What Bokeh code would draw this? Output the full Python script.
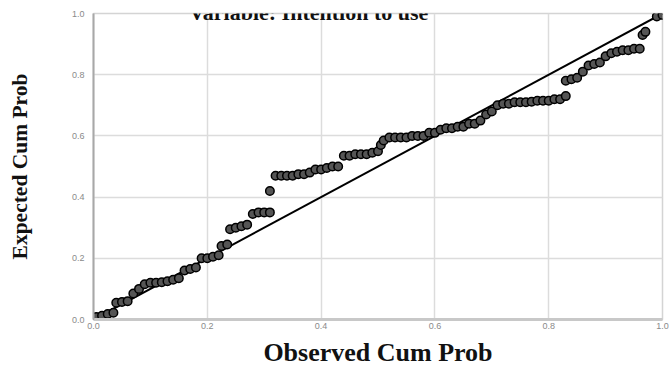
from bokeh.plotting import figure
from bokeh.models import Range1d, FixedTicker, Label, PrintfTickFormatter
from bokeh.embed import file_html
from bokeh.resources import INLINE

# Normal P-P plot: observed vs expected cumulative probability
observed_cum_prob = [
    0.005, 0.015, 0.025, 0.035,
    0.04, 0.05, 0.06,
    0.07, 0.08,
    0.09, 0.10, 0.11, 0.12, 0.13, 0.14, 0.15,
    0.16, 0.17, 0.18,
    0.19, 0.20, 0.21, 0.22,
    0.225, 0.235,
    0.24, 0.25, 0.26, 0.27,
    0.28, 0.29, 0.30, 0.31,
    0.31,
    0.32, 0.33, 0.34, 0.35, 0.36, 0.37, 0.38,
    0.39, 0.40, 0.41, 0.42, 0.43,
    0.44, 0.45, 0.46, 0.47, 0.48, 0.49, 0.50,
    0.505, 0.51,
    0.52, 0.53, 0.54, 0.55, 0.56, 0.57, 0.58,
    0.59, 0.60,
    0.61, 0.62, 0.63, 0.64, 0.65, 0.66, 0.67, 0.68,
    0.69, 0.70,
    0.71, 0.72, 0.73, 0.74, 0.75, 0.76, 0.77, 0.78, 0.79, 0.80, 0.81, 0.82, 0.83,
    0.83, 0.84, 0.85,
    0.86, 0.87,
    0.88, 0.89,
    0.90, 0.91, 0.92, 0.93, 0.94, 0.95, 0.96,
    0.965, 0.97,
    0.99, 1.0,
]
expected_cum_prob = [
    0.008, 0.012, 0.018, 0.022,
    0.055, 0.057, 0.06,
    0.085, 0.10,
    0.115, 0.12, 0.12, 0.122, 0.125, 0.13, 0.135,
    0.16, 0.165, 0.17,
    0.20, 0.20, 0.205, 0.21,
    0.24, 0.245,
    0.295, 0.30, 0.305, 0.31,
    0.345, 0.35, 0.35, 0.35,
    0.42,
    0.47, 0.47, 0.47, 0.47, 0.475, 0.475, 0.48,
    0.49, 0.49, 0.495, 0.50, 0.50,
    0.535, 0.535, 0.54, 0.54, 0.54, 0.545, 0.55,
    0.57, 0.585,
    0.595, 0.595, 0.595, 0.595, 0.60, 0.60, 0.60,
    0.61, 0.61,
    0.62, 0.625, 0.625, 0.63, 0.63, 0.64, 0.64, 0.65,
    0.67, 0.68,
    0.70, 0.705, 0.705, 0.71, 0.71, 0.71, 0.712, 0.715, 0.715, 0.715, 0.72, 0.72, 0.73,
    0.78, 0.785, 0.79,
    0.81, 0.83,
    0.835, 0.84,
    0.86, 0.87, 0.875, 0.88, 0.88, 0.885, 0.885,
    0.93, 0.94,
    0.99, 0.995,
]
reference_line = [0.0, 1.0]
tick_values = [0.0, 0.2, 0.4, 0.6, 0.8, 1.0]

title_text = "Variable: Intention to use"
x_title = "Observed Cum Prob"
y_title = "Expected Cum Prob"

p = figure(
    width=669, height=371,
    x_range=Range1d(0, 1), y_range=Range1d(0, 1),
    output_backend="svg", toolbar_location=None,
    min_border_left=93, min_border_right=7,
    min_border_top=13, min_border_bottom=52,
)
p.background_fill_color = "white"
p.border_fill_color = "white"
p.outline_line_color = "#d4d4d4"
p.outline_line_width = 1.5

# grid
for g in (p.xgrid, p.ygrid):
    g.ticker = FixedTicker(ticks=tick_values)
    g.grid_line_color = "#dcdcdc"
    g.grid_line_width = 1.5

# axes
for ax in (p.xaxis, p.yaxis):
    ax.ticker = FixedTicker(ticks=tick_values)
    ax.formatter = PrintfTickFormatter(format="%.1f")
    ax.major_tick_in = 0
    ax.major_tick_out = 0
    ax.minor_tick_in = 0
    ax.minor_tick_out = 0
    ax.major_label_text_font = "Liberation Sans"
    ax.major_label_text_font_size = "9px"
    ax.major_label_text_color = "#8a8a8a"
    ax.axis_label_text_font = "Liberation Serif"
    ax.axis_label_text_font_style = "bold"
    ax.axis_label_text_color = "#111111"

p.xaxis.axis_label = x_title
p.xaxis.axis_label_text_font_size = "26px"
p.xaxis.axis_line_color = "#c8c8c8"
p.xaxis.axis_line_width = 3
p.xaxis.major_label_standoff = 3
p.xaxis.axis_label_standoff = 6

p.yaxis.axis_label = y_title
p.yaxis.axis_label_text_font_size = "21.5px"
p.yaxis.axis_line_color = "#a8a8a8"
p.yaxis.axis_line_width = 2
p.yaxis.major_label_standoff = 9
p.yaxis.axis_label_standoff = 37

# diagonal reference line
p.line(reference_line, reference_line, line_color="black", line_width=2)

# observed points
p.scatter(observed_cum_prob, expected_cum_prob, marker="circle", size=8.5,
          line_color="#000000", line_width=1.5, fill_color="#555555")

# chart title at the top edge
p.add_layout(Label(x=0.378, y=1.0425, text=title_text, text_align="center",
                   text_baseline="top", text_font="Liberation Serif",
                   text_font_style="bold", text_font_size="22px",
                   text_color="#111111"))

open("out.html", "w").write(file_html(p, INLINE))
